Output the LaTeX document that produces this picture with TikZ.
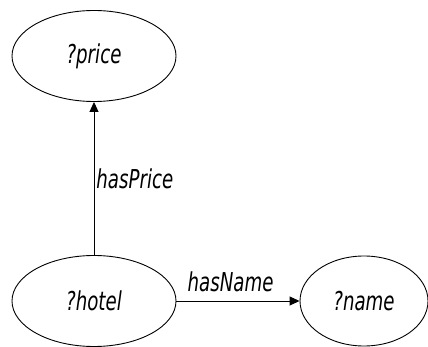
\documentclass[tikz,border=0pt]{standalone}
\usepackage{fontspec}
\newfontfamily\graphfont{DejaVu Sans}[FakeStretch=0.7]
\usetikzlibrary{shapes.geometric, arrows.meta, positioning}

\begin{document}
\begin{tikzpicture}[x=1pt, y=-1pt,
  var/.style={ellipse, draw, line width=0.9pt, minimum width=164pt, minimum height=91pt,
    font=\graphfont\itshape\fontsize{26}{30}\selectfont},
  prop/.style={-{Triangle[length=10pt, width=9pt]}, line width=0.9pt},
  lbl/.style={font=\graphfont\itshape\fontsize{26}{30}\selectfont}]
  \useasboundingbox (0,0) rectangle (428,347);
  % Nodes
  \node[var] (price) at (94,56) {?price};
  \node[var] (hotel) at (94,301) {?hotel};
  \node[var, minimum width=128pt, minimum height=90pt] (name) at (364,301) {?name};
  % Edges
  \draw[prop] (hotel) -- node[lbl, right, inner sep=2pt] {hasPrice} (price);
  \draw[prop] (hotel) -- node[lbl, pos=0.44, above=5pt] {hasName} (name);
\end{tikzpicture}
\end{document}
